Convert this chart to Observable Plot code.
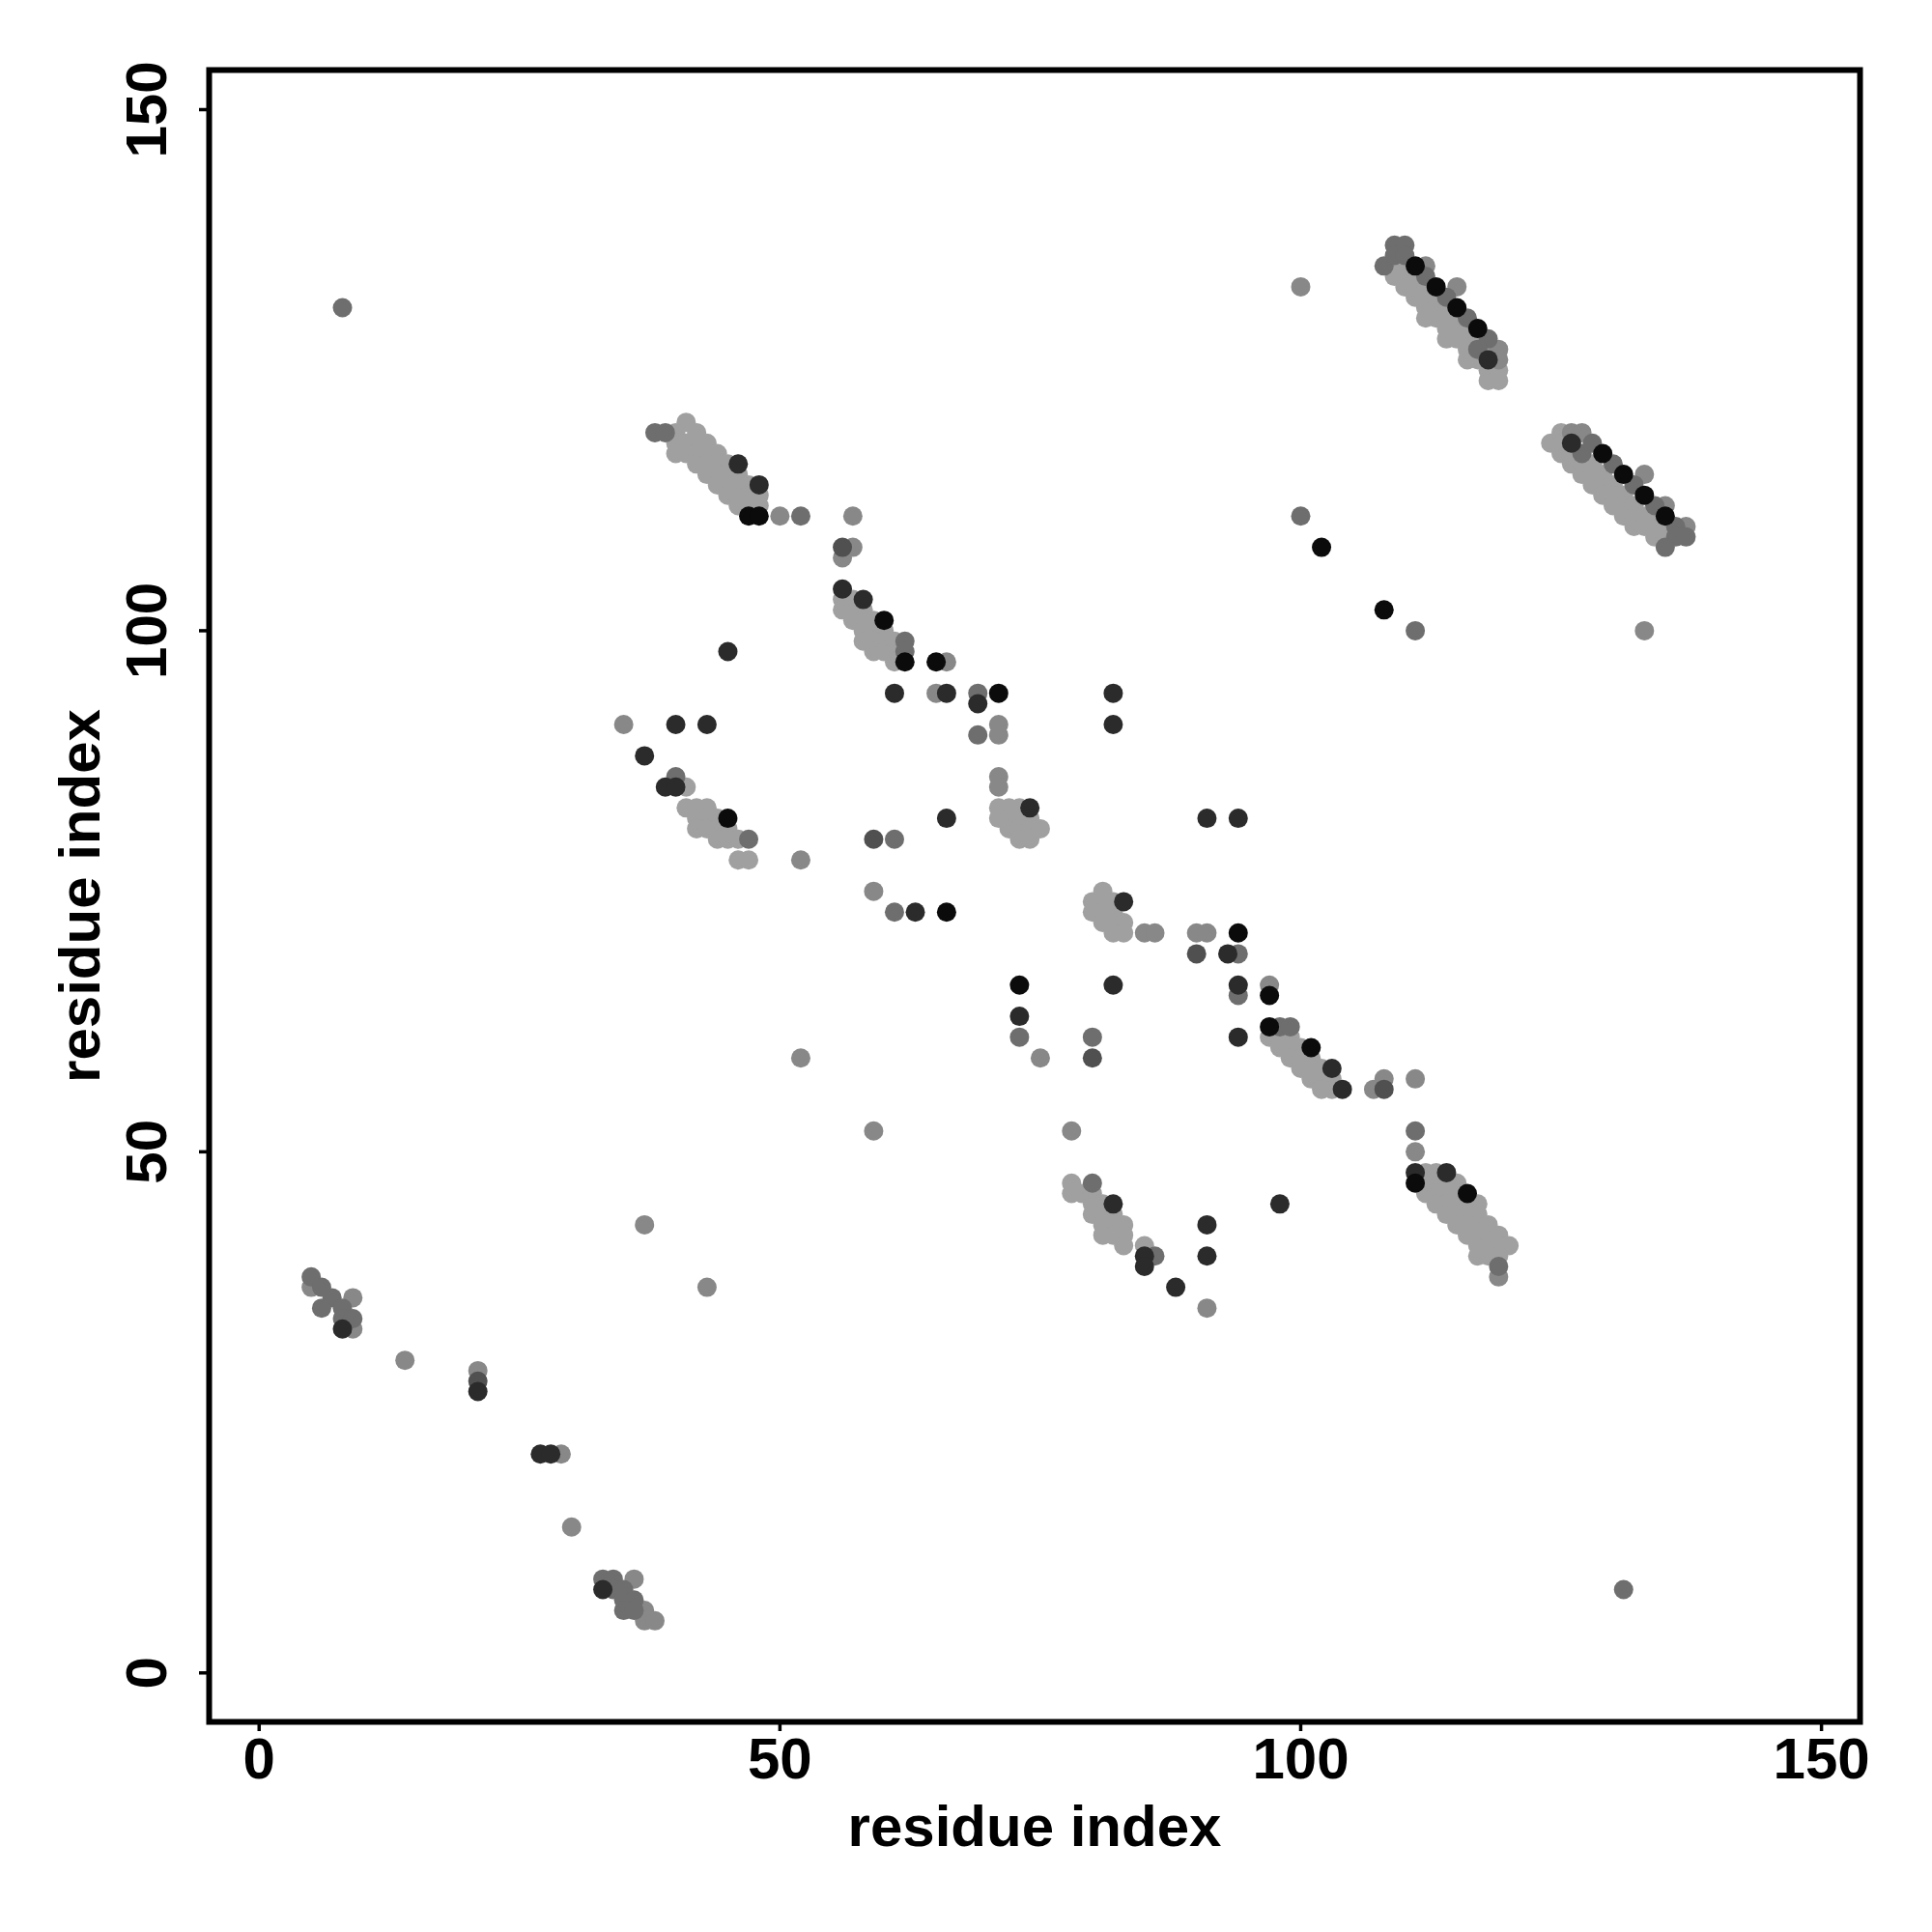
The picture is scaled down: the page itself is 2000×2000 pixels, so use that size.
<!DOCTYPE html>
<html><head><meta charset="utf-8">
<script src="https://cdn.jsdelivr.net/npm/d3@7"></script>
<script src="https://cdn.jsdelivr.net/npm/@observablehq/plot@0.6"></script>
<style>html,body{margin:0;padding:0;background:#fff}</style>
</head><body><div id="chart"></div>
<script>
// light-grey (dense) contacts
const lightI = [41,40,42,40,41,42,43,40,41,42,43,44,42,43,44,45,43,44,45,46,44,45,46,47,45,46,47,48,46,47,48,
  41,41,42,43,42,43,44,42,43,44,45,44,45,46,46,47,
  56,57,56,57,58,57,58,59,58,59,60,58,59,60,61,59,60,61,61,
  71,72,73,71,72,73,74,72,73,74,75,73,74,
  81,80,81,82,80,81,82,81,82,83,82,83,
  97,98,99,98,99,100,99,100,101,100,101,102,101,102,103,102,103,
  78,78,79,80,80,81,80,81,82,81,82,83,81,82,83,83,85,
  112,113,112,113,114,115,112,113,114,115,113,114,115,116,117,114,115,116,117,115,116,117,118,116,117,118,119,117,118,119,120,117,118,119,
  109,109,110,110,110,111,111,111,112,112,112,112,113,113,113,114,114,114,114,115,115,115,116,116,116,116,117,117,117,118,118,118,119,119,
  124,125,125,125,126,126,127,127,128,128,128,129,129,129,130,130,130,131,131,131,132,132,132,133,133,134,134,134,135,135];
const lightJ = [120,119,119,118,118,118,118,117,117,117,117,117,116,116,116,116,115,115,115,115,114,114,114,114,113,113,113,113,112,112,112,
  85,83,83,83,82,82,82,81,81,81,81,80,80,80,78,78,
  103,103,102,102,102,101,101,101,100,100,100,99,99,99,99,98,98,98,97,
  83,83,83,82,82,82,82,81,81,81,81,80,80,
  75,74,74,74,73,73,73,72,72,72,71,71,
  61,61,61,60,60,60,59,59,59,58,58,58,57,57,57,56,56,
  47,46,46,46,45,45,44,44,44,43,43,43,42,42,42,41,41,
  48,48,47,47,47,47,46,46,46,46,45,45,45,45,45,44,44,44,44,43,43,43,43,42,42,42,42,41,41,41,41,40,40,40,
  134,135,133,134,135,132,133,134,130,131,132,133,130,131,132,128,129,130,131,128,129,130,126,127,128,129,126,127,128,124,125,127,124,125,
  118,119,118,117,117,116,116,115,116,115,114,115,114,113,114,113,112,113,112,111,112,111,110,111,110,111,110,109,110,109];

// other contacts, with grey level (0 = black ... 4 = mid grey)
const contactI = [5,5,6,7,6,8,9,8,9,8,9,
  14,21,21,21,27,28,29,30,
  33,34,36,33,34,35,35,36,35,36,37,37,38,
  37,43,8,
  45,35,40,43,37,40,39,40,45,47,
  38,39,46,48,47,48,50,52,57,100,100,
  56,57,56,56,58,60,62,62,62,65,66,
  61,65,66,69,69,71,82,71,69,71,82,71,71,74,66,91,94,59,61,52,59,61,63,66,83,85,86,90,91,94,90,93,94,73,82,94,94,97,97,73,73,80,75,80,52,94,97,98,99,101,103,104,59,78,
  111,133,107,108,108,111,111,111,111,
  80,82,86,85,85,88,91,91,91,98,
  111,114,116,119,119,131,
  109,110,108,109,110,111,112,112,113,115,114,115,116,117,118,119,119,117,118,
  126,127,126,127,128,129,130,131,133,132,133,134,135,135,136,137,136,137,135,102,108];
const contactJ = [38,37,37,36,35,35,36,34,34,33,33,
  30,29,28,27,21,21,21,14,
  9,9,9,8,8,8,7,7,6,6,6,5,5,
  43,37,131,
  98,91,91,91,88,86,85,85,82,80,
  119,119,116,114,111,111,111,111,111,111,133,
  108,108,107,104,103,101,99,98,97,97,97,
  94,94,94,94,93,94,94,91,90,90,91,86,85,83,82,82,82,80,80,78,75,73,73,73,74,71,71,71,71,71,69,69,69,66,66,66,65,66,65,63,61,61,59,59,59,61,62,62,62,60,58,56,52,52,
  100,100,56,57,56,57,52,50,48,
  47,45,40,40,39,37,43,40,35,45,
  47,48,46,39,38,8,
  137,137,135,136,136,135,135,134,133,133,132,131,130,129,128,127,126,127,126,
  119,119,118,117,118,117,116,115,115,114,113,112,112,111,110,110,109,109,108,108,102];
const contactLevel = [3,4,3,3,3,3,4,3,3,1,4,
  4,4,2,1,1,1,4,4,
  3,3,4,1,3,3,3,3,3,3,4,4,4,
  4,4,3,
  1,4,1,1,1,3,1,1,0,3,
  3,3,1,1,0,0,4,3,4,3,4,
  2,4,4,1,1,0,3,3,0,0,4,
  1,4,1,3,1,0,1,4,3,4,1,4,4,1,1,1,1,2,3,4,4,3,1,0,1,4,4,4,4,0,2,1,3,0,1,1,3,4,0,1,3,3,4,2,4,1,0,3,3,0,1,1,4,4,
  3,4,4,4,2,4,3,4,1,
  3,1,3,1,1,1,1,1,4,1,
  0,1,0,3,4,3,
  3,3,3,3,3,0,4,3,0,4,3,0,3,0,3,4,4,3,1,
  4,4,1,3,3,0,3,0,4,3,0,3,4,0,3,4,3,3,3,0,0];

const xTicks = [0, 50, 100, 150];
const yTicks = [0, 50, 100, 150];
const xTitle = "residue index";
const yTitle = "residue index";
const levels = [0, 1, 2, 3, 4, 5];
const greys = ["#0b0b0b", "#2b2b2b", "#505050", "#6e6e6e", "#888888", "#a0a0a0"];

const points = [
  ...lightI.map((x, k) => ({x, y: lightJ[k], level: 5})),
  ...contactI.map((x, k) => ({x, y: contactJ[k], level: contactLevel[k]}))
];
const ordered = d3.sort(points, d => -d.level);

const chart = Plot.plot({
  width: 2000,
  height: 2000,
  marginLeft: 216,
  marginRight: 75,
  marginTop: 72,
  marginBottom: 218,
  style: "font-family: 'Liberation Sans', Arial, Helvetica, sans-serif; font-weight: bold; background: #fff;",
  x: {domain: [-4.8, 153.7]},
  y: {domain: [-4.7, 153.8]},
  color: {type: "ordinal", domain: levels, range: greys},
  marks: [
    Plot.dot(ordered, {x: "x", y: "y", fill: "level", r: 10}),
    Plot.frame({stroke: "#000", strokeWidth: 6}),
    Plot.axisX(xTicks, {tickSize: 10, tickPadding: 6, fontSize: 60, fontWeight: "bold", strokeWidth: 3.5, label: null}),
    Plot.axisY(yTicks, {tickSize: 10, tickPadding: 35, tickRotate: -90, textAnchor: "middle", lineAnchor: "bottom", fontSize: 60, fontWeight: "bold", strokeWidth: 3.5, label: null}),
    Plot.text([xTitle], {frameAnchor: "bottom", dy: 128, textAnchor: "middle", lineAnchor: "bottom", fontSize: 60, fontWeight: "bold"}),
    Plot.text([yTitle], {frameAnchor: "left", dx: -114, rotate: -90, textAnchor: "middle", lineAnchor: "bottom", fontSize: 60, fontWeight: "bold"})
  ]
});
document.getElementById("chart").appendChild(chart);
</script>
</body></html>
